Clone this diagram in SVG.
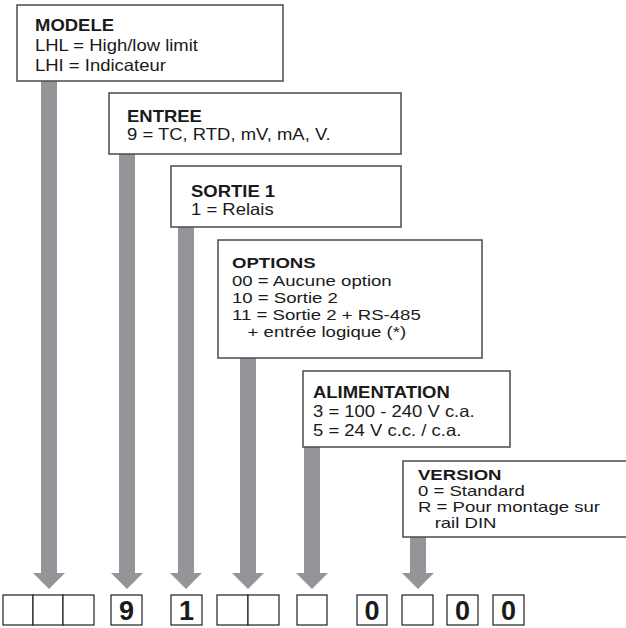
<svg xmlns="http://www.w3.org/2000/svg" width="626" height="628" viewBox="0 0 626 628">
  <style>
    .box { fill: #ffffff; stroke: #4a4a4a; stroke-width: 1.5; }
    .cell { fill: #ffffff; stroke: #1e1e1e; stroke-width: 1.2; }
    .arrow { fill: #949599; stroke: none; }
    .t { font-family: "Liberation Sans", Arial, Helvetica, sans-serif; font-size: 16.5px; fill: #1a1a1a; }
    .tm { font-family: "Liberation Sans", Arial, Helvetica, sans-serif; font-size: 15.5px; fill: #1a1a1a; }
    .tc { font-family: "Liberation Sans", Arial, Helvetica, sans-serif; font-size: 14.5px; fill: #1a1a1a; }
    .h { font-weight: bold; }
    .d { font-family: "Liberation Sans", Arial, Helvetica, sans-serif; font-size: 27px; font-weight: bold; fill: #1a1a1a; text-anchor: middle; }
  </style>

  <!-- connectors: shaft from each option box down to its code position -->
  <g id="connectors">
    <path class="arrow" d="M41,81 H57 V573 H65 L49,589 L33,573 H41 Z"/>
    <path class="arrow" d="M119,154 H135 V573 H143 L127,589 L111,573 H119 Z"/>
    <path class="arrow" d="M178,227 H194 V573 H202 L186,589 L170,573 H178 Z"/>
    <path class="arrow" d="M240,358 H256 V573 H264 L248,589 L232,573 H240 Z"/>
    <path class="arrow" d="M304,447 H320 V573 H328 L312,589 L296,573 H304 Z"/>
    <path class="arrow" d="M410,537 H426 V573 H434 L418,589 L402,573 H410 Z"/>
  </g>

  <g id="modele">
    <rect class="box" x="17" y="5" width="266" height="76"/>
    <g class="t" transform="translate(35 0) scale(1.12 1)">
      <text class="h" y="31">MODELE</text>
      <text y="51">LHL = High/low limit</text>
      <text y="71">LHI = Indicateur</text>
    </g>
  </g>

  <g id="entree">
    <rect class="box" x="109" y="93" width="292" height="61"/>
    <g class="t" transform="translate(127 0) scale(1.12 1)">
      <text class="h" y="122">ENTREE</text>
      <text y="140">9 = TC, RTD, mV, mA, V.</text>
    </g>
  </g>

  <g id="sortie1">
    <rect class="box" x="171" y="166" width="230" height="61"/>
    <g class="t" transform="translate(191 0) scale(1.12 1)">
      <text class="h" y="197">SORTIE 1</text>
      <text y="215">1 = Relais</text>
    </g>
  </g>

  <g id="options">
    <rect class="box" x="218" y="240" width="264" height="118"/>
    <g class="tm" transform="translate(232 0) scale(1.2 1)">
      <text class="h" y="268">OPTIONS</text>
      <text y="286">00 = Aucune option</text>
      <text y="303">10 = Sortie 2</text>
      <text y="320">11 = Sortie 2 + RS-485</text>
      <text x="13" y="337">+ entrée logique (*)</text>
    </g>
  </g>

  <g id="alimentation">
    <rect class="box" x="303" y="371" width="207" height="76"/>
    <g class="t" transform="translate(313 0) scale(1.12 1)">
      <text class="h" y="398">ALIMENTATION</text>
      <text y="417">3 = 100 - 240 V c.a.</text>
      <text y="436">5 = 24 V c.c. / c.a.</text>
    </g>
  </g>

  <g id="version">
    <rect class="box" x="403" y="461" width="230" height="76"/>
    <g class="tc" transform="translate(418 0) scale(1.28 1)">
      <text class="h" y="480">VERSION</text>
      <text y="496">0 = Standard</text>
      <text y="512">R = Pour montage sur</text>
      <text x="13" y="528">rail DIN</text>
    </g>
  </g>

  <!-- order code cells -->
  <g id="code">
    <rect class="cell" x="3" y="595" width="30" height="30"/>
    <rect class="cell" x="33" y="595" width="30" height="30"/>
    <rect class="cell" x="63" y="595" width="31" height="30"/>
    <rect class="cell" x="111" y="595" width="31" height="30"/>
    <text class="d" x="126.5" y="620">9</text>
    <rect class="cell" x="171" y="595" width="31" height="30"/>
    <text class="d" x="186.5" y="620">1</text>
    <rect class="cell" x="217" y="595" width="31" height="30"/>
    <rect class="cell" x="248" y="595" width="31" height="30"/>
    <rect class="cell" x="297" y="595" width="30" height="30"/>
    <rect class="cell" x="357" y="595" width="30" height="30"/>
    <text class="d" x="372" y="620">0</text>
    <rect class="cell" x="402" y="595" width="31" height="30"/>
    <rect class="cell" x="447" y="595" width="31" height="30"/>
    <text class="d" x="462.5" y="620">0</text>
    <rect class="cell" x="493" y="595" width="31" height="30"/>
    <text class="d" x="508.5" y="620">0</text>
  </g>
</svg>
